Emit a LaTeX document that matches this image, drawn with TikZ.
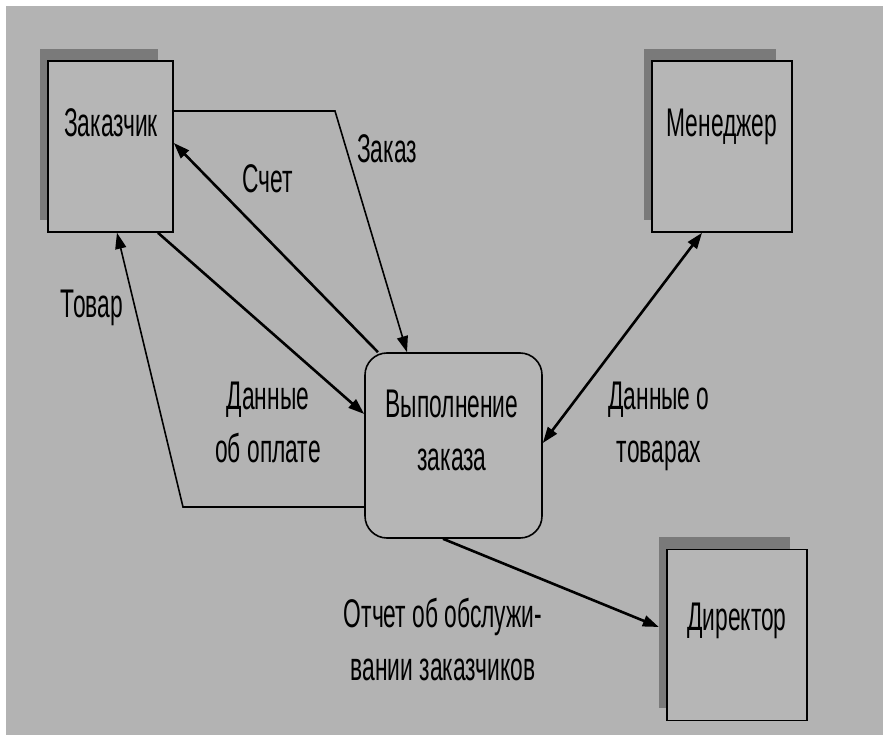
\documentclass[tikz,border=0pt]{standalone}
\usepackage{fontspec}
\newfontfamily\narrowfont[FakeStretch=0.57]{Liberation Sans}
\usepackage{tikz}
\usetikzlibrary{arrows.meta}
\definecolor{slidegray}{RGB}{179,179,179}
\definecolor{boxgray}{RGB}{182,182,182}
\definecolor{shadowgray}{RGB}{122,122,122}
\tikzset{
    textnode/.style = {font=\narrowfont\fontsize{40}{53}\selectfont, align=center, inner sep=0pt, anchor=base},
    shadow_node/.style = {rectangle, fill=shadowgray, draw=none, inner sep=0pt, minimum height=171pt},
    entity_node/.style = {rectangle, fill=boxgray, draw=black, line width=1.6pt, inner sep=0pt, minimum width=140pt, minimum height=171pt},
    process_node/.style = {rectangle, rounded corners=22pt, fill=boxgray, draw=black, line width=1.6pt, inner sep=0pt, minimum width=177pt, minimum height=185pt},
    flow_thick/.style = {->, line width=2.6pt},
    flow_thin/.style = {->, line width=1.6pt},
    flow_both/.style = {<->, line width=2.6pt}
}

\begin{document}
\begin{tikzpicture}
    [x=1pt, y=-1pt,
    >={Triangle[length=16pt,width=11pt]}]

    \useasboundingbox (0,0) rectangle (883,735);
    \fill[white] (0,0) rectangle (883,735);
    \fill[slidegray] (6,6) rectangle (883,735);

    \node[shadow_node, minimum width=118pt] (zak_shadow) at (99,134.5) {};
    \node[entity_node, minimum width=125pt] (zak) at (110.5,146.5) {};
    \node[shadow_node, minimum width=132pt] (men_shadow) at (710,134.5) {};
    \node[entity_node] (men) at (722,146.5) {};
    \node[shadow_node, minimum width=131pt] (dir_shadow) at (724.5,622.5) {};
    \node[entity_node] (dir) at (737,635) {};
    \node[process_node] (vyp) at (453.5,445.5) {};

    \node[textnode] (zak_text) at (111,137) {Заказчик};
    \node[textnode] (men_text) at (722,137) {Менеджер};
    \node[textnode] (dir_text) at (737,630) {Директор};
    \node[textnode] (vyp_text) at (452,470) {Выполнение\\заказа};

    \node[textnode] (order_label) at (387,163) {Заказ};
    \node[textnode] (bill_label) at (268,193) {Счет};
    \node[textnode] (goods_label) at (92,317) {Товар};
    \node[textnode] (pay_label) at (268,462) {Данные\\об оплате};
    \node[textnode] (stock_label) at (659,462) {Данные о\\товарах};
    \node[textnode] (report_label) at (443,680) {Отчет об обслужи-\\вании заказчиков};

    \coordinate (order_bend) at (335,111);
    \coordinate (goods_bend) at (183,507);

    \draw[flow_thin] ([yshift=35.5pt]zak.east) -- (order_bend) -- ([xshift=-46.5pt]vyp.north);
    \draw[flow_thick] ([xshift=-75.5pt]vyp.north) -- ([yshift=3.5pt]zak.east);
    \draw[flow_thick] ([xshift=47.5pt]zak.south) -- ([yshift=31.5pt]vyp.west);
    \draw[flow_thin] ([yshift=-61.5pt]vyp.west) -- (goods_bend) -- ([xshift=6.5pt]zak.south);
    \draw[flow_both] ([yshift=2.5pt]vyp.east) -- ([xshift=-20pt]men.south);
    \draw[flow_thick] ([xshift=-10.5pt]vyp.south) -- ([yshift=-4.5pt]dir_shadow.west);
\end{tikzpicture}
\end{document}
